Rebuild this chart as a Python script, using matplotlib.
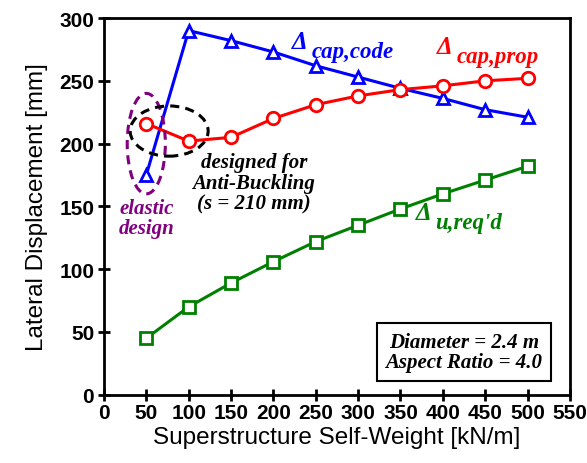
import matplotlib.pyplot as plt
from matplotlib.patches import Ellipse

weight = [50, 100, 150, 200, 250, 300, 350, 400, 450, 500]
cap_code = [175, 290, 282, 273, 262, 253, 244, 236, 227, 221]
cap_prop = [216, 202, 205, 220, 231, 238, 243, 246, 250, 252]
u_reqd = [45, 70, 89, 106, 122, 135, 148, 160, 171, 182]

serif = 'Liberation Serif'

fig = plt.figure(figsize=(5.87, 4.64), dpi=100)
ax = fig.add_axes([0.177, 0.147, 0.794, 0.812])

ax.plot(weight, u_reqd, color='#008000', lw=2.2, marker='s', ms=8,
        mfc='white', mec='#008000', mew=2, zorder=3)
ax.plot(weight, cap_code, color='blue', lw=2.2, marker='^', ms=9,
        mfc='white', mec='blue', mew=2, zorder=3)
ax.plot(weight, cap_prop, color='red', lw=2.2, marker='o', ms=9,
        mfc='white', mec='red', mew=2, zorder=4)

ax.add_patch(Ellipse((50, 200), 45, 80, fill=False, ec='#800080', lw=2.2, ls=(0, (3, 2)), zorder=5))
ax.add_patch(Ellipse((77, 210), 92, 40, fill=False, ec='black', lw=2.2, ls=(0, (3, 2)), zorder=5))

ax.set_xlim(0, 550)
ax.set_ylim(0, 300)
ax.set_xticks(range(0, 551, 50))
ax.set_yticks(range(0, 301, 50))
ax.tick_params(direction='inout', length=8, width=2, labelsize=15)
ax.tick_params(axis='y', pad=3)
ax.tick_params(axis='x', pad=2)
for lab in ax.get_xticklabels() + ax.get_yticklabels():
    lab.set_fontweight('bold')
    lab.set_family('Liberation Sans')
for s in ax.spines.values():
    s.set_linewidth(2)

ax.set_xlabel('Superstructure Self-Weight [kN/m]', fontsize=17.5, family='Liberation Sans', labelpad=3)
ax.set_ylabel('Lateral Displacement [mm]', fontsize=17.5, family='Liberation Sans', labelpad=8)

def delta_label(x, y, sub, color):
    t = ax.text(x, y, '\u0394', color=color, fontsize=18, family=serif, style='italic',
                weight='bold', va='baseline')
    ax.annotate(sub, xy=(1, 0), xycoords=t, xytext=(3, -3), textcoords='offset points',
                color=color, fontsize=16.5, family=serif, style='italic', weight='bold', va='baseline')

delta_label(222, 276, 'cap,code', 'blue')
delta_label(393, 272, 'cap,prop', 'red')
delta_label(368, 140, "u,req'd", '#008000')

ax.text(177, 193, 'designed for\nAnti-Buckling\n(s = 210 mm)', ha='center', va='top',
        fontsize=15, family=serif, style='italic', weight='bold', linespacing=1.05)
ax.text(51, 157, 'elastic\ndesign', ha='center', va='top', color='#800080',
        fontsize=15, family=serif, style='italic', weight='bold', linespacing=1.05)

ax.text(425, 34, 'Diameter = 2.4 m\nAspect Ratio = 4.0', ha='center', va='center',
        fontsize=15, family=serif, style='italic', weight='bold', linespacing=1.05,
        bbox=dict(boxstyle='square,pad=0.4', fc='white', ec='black', lw=1.5))

fig.savefig('out.png', dpi=100)
